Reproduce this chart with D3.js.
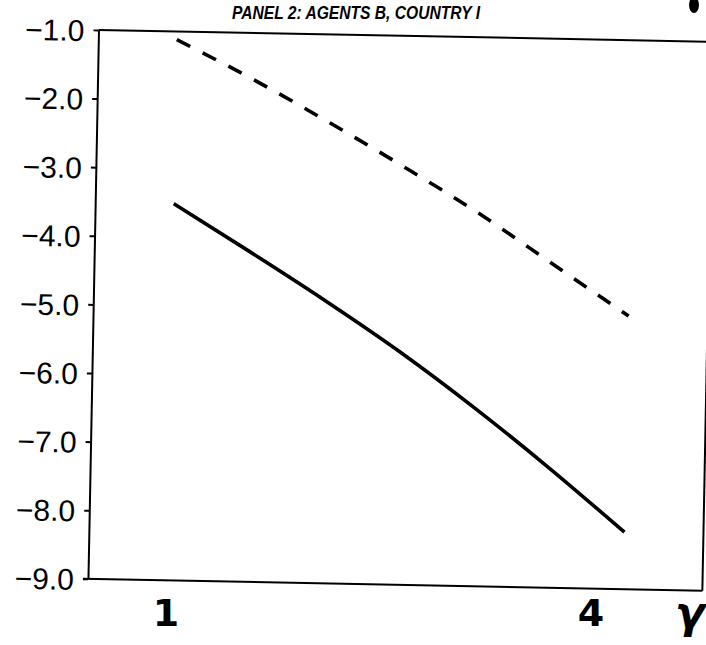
<!DOCTYPE html>
<html>
<head>
<meta charset="utf-8">
<script src="https://cdn.jsdelivr.net/npm/d3@7"></script>
<style>
  html, body { margin: 0; padding: 0; background: #fff; }
  svg { display: block; }
</style>
</head>
<body>
<svg id="chart" width="706" height="645"></svg>
<script>
// ---- data ----
const gammaValues = [1, 1.5, 2, 2.5, 3, 3.5, 4];
const solidSeries = [-3.51, -4.18, -4.87, -5.60, -6.40, -7.26, -8.17];
const dashedSeries = [-1.12, -1.67, -2.27, -2.90, -3.56, -4.29, -5.02];
const yTickValues = [-1, -2, -3, -4, -5, -6, -7, -8, -9];
const xTickValues = [1, 4];
const xTickLabels = ["1", "4"];
const xAxisName = "γ";
const titleText = "PANEL 2: AGENTS B, COUNTRY I";

(function () {
const svg = d3.select("#chart");
svg.append("rect").attr("width", 706).attr("height", 645).attr("fill", "#fff");

const pLeft = 98.5, pTop = 30, pBottom = 579, pRight = 713;
const x = d3.scaleLinear().domain([1, 4]).range([177, 634]);
const y = d3.scaleLinear().domain([-9, -1]).range([pBottom, pTop]);

const g = svg.append("g").attr("transform", "rotate(1.1,100,30)");

// frame
g.append("line").attr("x1", pLeft).attr("x2", 730).attr("y1", pTop).attr("y2", pTop)
  .attr("stroke", "#000").attr("stroke-width", 2);
g.append("line").attr("x1", pLeft - 5).attr("x2", pRight).attr("y1", pBottom).attr("y2", pBottom)
  .attr("stroke", "#000").attr("stroke-width", 2);
g.append("line").attr("x1", pRight).attr("x2", pRight).attr("y1", pTop + 3).attr("y2", pBottom)
  .attr("stroke", "#000").attr("stroke-width", 2);

// y axis
const yAxis = d3.axisLeft(y).tickValues(yTickValues).tickSize(5).tickSizeOuter(0)
  .tickFormat(d => "\u2212" + Math.abs(d).toFixed(1));
const ya = g.append("g").attr("transform", `translate(${pLeft},0)`).call(yAxis);
ya.select(".domain").attr("stroke", "#000").attr("stroke-width", 2);
ya.selectAll(".tick line").attr("stroke", "#000").attr("stroke-width", 2);
ya.selectAll(".tick text")
  .attr("x", -14).attr("dy", "0.36em")
  .attr("fill", "#000")
  .style("font-family", "'Liberation Sans', Arial, sans-serif")
  .style("font-size", "30px");

// lines
const line = d3.line().x((d, i) => x(gammaValues[i])).y(d => y(d)).curve(d3.curveMonotoneX);
g.append("path").datum(solidSeries).attr("d", line)
  .attr("fill", "none").attr("stroke", "#000").attr("stroke-width", 3.6);
g.append("path").datum(dashedSeries).attr("d", line)
  .attr("fill", "none").attr("stroke", "#000").attr("stroke-width", 3.6)
  .attr("stroke-dasharray", "15,14");

// title
svg.append("text").attr("x", 232).attr("y", 19)
  .attr("textLength", 248).attr("lengthAdjust", "spacingAndGlyphs")
  .style("font-family", "'Liberation Sans', Arial, sans-serif")
  .style("font-size", "18px").style("font-style", "italic").style("font-weight", "bold")
  .text(titleText);

// handwritten x labels
const xl = svg.append("g").style("font-family", "'DejaVu Sans', sans-serif")
  .style("font-weight", "bold").attr("fill", "#000");
const xOffsets = [-11, -43];
xl.selectAll("text.xt").data(xTickValues).join("text").attr("class", "xt")
  .attr("x", (d, i) => x(d) + xOffsets[i]).attr("y", 626)
  .attr("text-anchor", "middle").style("font-size", "38px")
  .text((d, i) => xTickLabels[i]);
xl.append("text").attr("x", 690).attr("y", 628).attr("text-anchor", "middle")
  .style("font-size", "44px").style("font-style", "italic").text(xAxisName);

// stray pen mark at top right
svg.append("ellipse").attr("cx", 694).attr("cy", 5).attr("rx", 5).attr("ry", 8).attr("fill", "#000");
})();
</script>
</body>
</html>
